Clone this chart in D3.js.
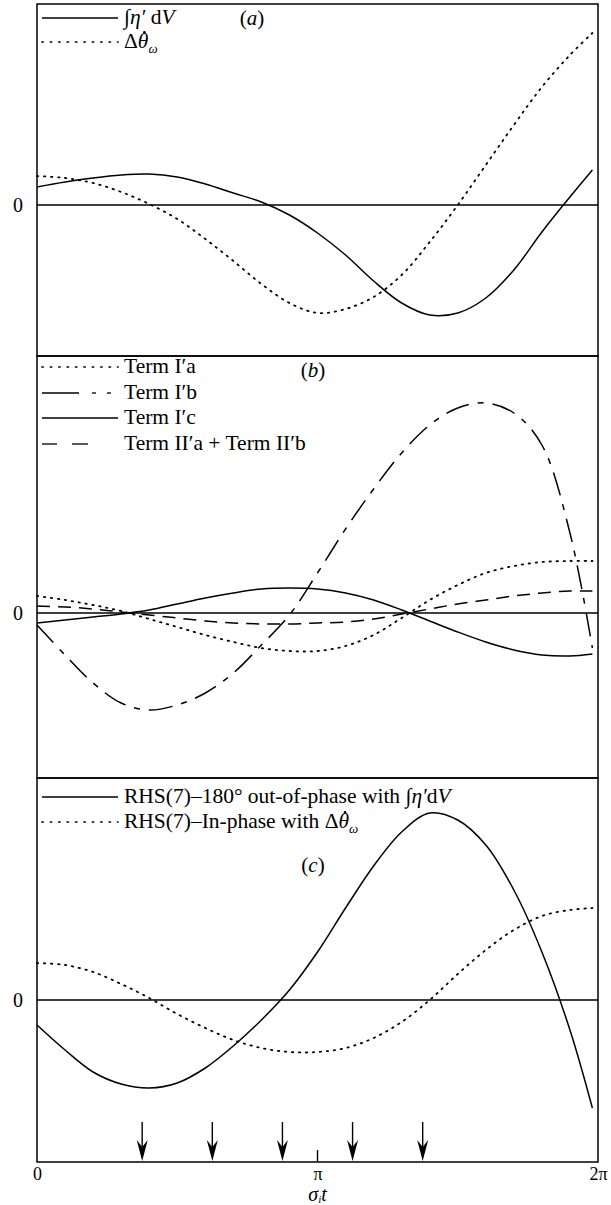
<!DOCTYPE html>
<html>
<head>
<meta charset="utf-8">
<script src="https://cdn.jsdelivr.net/npm/d3@7"></script>
<style>
  html, body { margin: 0; padding: 0; background: #fff; }
  svg { display: block; }
  text { font-family: "Liberation Serif", "DejaVu Serif", serif; fill: #000; }
</style>
</head>
<body>
<svg id="chart" width="611" height="1205"></svg>
<script>
// Phase samples, in units of pi (sigma_i t / pi)
const phase = [0, 0.1, 0.2, 0.3, 0.4, 0.5, 0.6, 0.7, 0.8, 0.9, 1.0,
               1.1, 1.2, 1.3, 1.4, 1.5, 1.6, 1.7, 1.8, 1.9, 1.98];

// (a) volume-integrated eta' and heating-rate anomaly
const etaIntegral = [0.18, 0.23, 0.27, 0.30, 0.31, 0.28, 0.21, 0.12, 0.03, -0.10, -0.28,
                     -0.50, -0.76, -0.98, -1.10, -1.08, -0.93, -0.65, -0.27, 0.08, 0.35];
const heatingRate = [0.29, 0.27, 0.22, 0.13, 0.01, -0.14, -0.34, -0.56, -0.79, -0.98, -1.08,
                     -1.04, -0.92, -0.70, -0.37, 0.00, 0.40, 0.80, 1.18, 1.50, 1.72];

// (b) individual terms
const termIa = [0.17, 0.13, 0.08, 0.02, -0.06, -0.14, -0.22, -0.29, -0.35, -0.38, -0.38,
                -0.33, -0.22, -0.05, 0.13, 0.28, 0.40, 0.47, 0.51, 0.52, 0.52];
const termIb = [-0.12, -0.42, -0.70, -0.90, -0.97, -0.92, -0.80, -0.60, -0.32, -0.02, 0.40,
                0.84, 1.24, 1.60, 1.88, 2.05, 2.10, 2.00, 1.68, 0.80, -0.35];
const termIc = [-0.10, -0.07, -0.04, -0.01, 0.03, 0.09, 0.15, 0.20, 0.24, 0.25, 0.24,
                0.20, 0.13, 0.03, -0.08, -0.19, -0.29, -0.37, -0.42, -0.43, -0.41];
const termII = [0.07, 0.06, 0.04, 0.01, -0.02, -0.05, -0.08, -0.10, -0.11, -0.11, -0.10,
                -0.09, -0.06, -0.01, 0.04, 0.09, 0.13, 0.17, 0.20, 0.22, 0.22];

// (c) right-hand side of (7), split into two phase components
const rhsOut = [-0.25, -0.50, -0.72, -0.84, -0.88, -0.83, -0.68, -0.46, -0.20, 0.10, 0.48,
                0.92, 1.34, 1.68, 1.87, 1.80, 1.55, 1.10, 0.48, -0.30, -1.08];
const rhsIn = [0.37, 0.35, 0.28, 0.16, 0.02, -0.14, -0.28, -0.40, -0.48, -0.52, -0.52,
               -0.48, -0.38, -0.22, 0.00, 0.26, 0.50, 0.70, 0.84, 0.90, 0.92];

// Phases marked with arrows on the bottom axis (units of pi)
const arrowPhases = [0.375, 0.625, 0.875, 1.125, 1.375];
const xTicks = [0, 1, 2];
const xTickLabels = ["0", "π", "2π"];

const svg = d3.select("#chart");
const x = d3.scaleLinear().domain([0, 2]).range([37, 598]);

const FS = 21.5;   // legend font size
const DOT = "1.4,5.6";

const panels = [
  { top: 4, bottom: 356, domain: [-1.51, 2.01], tag: "a", tagX: 252, tagY: 25,
    series: [
      { values: etaIntegral, dash: null },
      { values: heatingRate, dash: DOT, cap: "round", w: 1.8 }
    ],
    legend: [
      { y: 18, kind: "solid", label: "eta" },
      { y: 42, kind: "dot", label: "theta" }
    ] },
  { top: 356, bottom: 778, domain: [-1.65, 2.57], tag: "b", tagX: 313, tagY: 377,
    series: [
      { values: termIa, dash: DOT, cap: "round", w: 1.8 },
      { values: termIb, dash: "24,9,6,9" },
      { values: termIc, dash: null },
      { values: termII, dash: "13,8" }
    ],
    legend: [
      { y: 367, kind: "dot", label: "Term I′a" },
      { y: 393, kind: "longshort", label: "Term I′b" },
      { y: 418, kind: "solid", label: "Term I′c" },
      { y: 444, kind: "dash", label: "Term II′a + Term II′b" }
    ] },
  { top: 778, bottom: 1162, domain: [-1.62, 2.22], tag: "c", tagX: 313, tagY: 872,
    series: [
      { values: rhsOut, dash: null },
      { values: rhsIn, dash: DOT, cap: "round", w: 1.8 }
    ],
    legend: [
      { y: 797, kind: "solid", label: "rhsOut" },
      { y: 822, kind: "dot", label: "rhsIn" }
    ] }
];

const line = y => d3.line()
  .x((d, i) => x(phase[i]))
  .y(d => y(d))
  .curve(d3.curveCatmullRom.alpha(0.5));

function hline(g, a, b, y, extra) {
  const l = g.append("line").attr("x1", a).attr("x2", b).attr("y1", y).attr("y2", y)
    .attr("stroke", "#000").attr("stroke-width", 1.3);
  if (extra) extra(l);
  return l;
}

function legendKey(g, kind, y) {
  if (kind === "solid") {
    hline(g, 42, 118, y);
  } else if (kind === "dot") {
    hline(g, 42, 118, y, l => l.attr("stroke-width", 1.7)
      .attr("stroke-dasharray", "1.2,7.2").attr("stroke-linecap", "round"));
  } else if (kind === "longshort") {
    hline(g, 42, 79, y);
    hline(g, 92, 96, y);
    hline(g, 107, 111, y);
  } else if (kind === "dash") {
    hline(g, 42, 57, y);
    hline(g, 72, 88, y);
  }
}

// dot accent above the character at index ci of a text element
function overDot(g, t, ci) {
  const e = t.node().getExtentOfChar(ci);
  g.append("circle").attr("cx", e.x + e.width * 0.62).attr("cy", e.y + 3.4)
    .attr("r", 1.3).attr("fill", "#000");
}

function legendLabel(g, label, y) {
  const t = g.append("text").attr("x", 124).attr("y", y + 6).attr("font-size", FS);
  if (label === "eta") {
    t.append("tspan").text("∫");
    t.append("tspan").attr("font-style", "italic").text("η′");
    t.append("tspan").text(" d");
    t.append("tspan").attr("font-style", "italic").text("V");
  } else if (label === "theta") {
    t.text("Δ");
    t.append("tspan").attr("font-style", "italic").text("θ");
    t.append("tspan").attr("font-style", "italic").attr("font-size", 13).attr("dy", 5).text("ω");
    overDot(g, t, 1);
  } else if (label === "rhsOut") {
    t.text("RHS(7)–180° out-of-phase with ∫");
    t.append("tspan").attr("font-style", "italic").text("η′");
    t.append("tspan").text("d");
    t.append("tspan").attr("font-style", "italic").text("V");
  } else if (label === "rhsIn") {
    t.text("RHS(7)–In-phase with Δ");
    t.append("tspan").attr("font-style", "italic").text("θ");
    t.append("tspan").attr("font-style", "italic").attr("font-size", 13).attr("dy", 5).text("ω");
    overDot(g, t, "RHS(7)–In-phase with Δ".length);
  } else {
    t.text(label);
  }
}

panels.forEach(p => {
  const y = d3.scaleLinear().domain(p.domain).range([p.bottom, p.top]);
  const g = svg.append("g");

  // frame
  g.append("rect").attr("x", x(0)).attr("y", p.top)
    .attr("width", x(2) - x(0)).attr("height", p.bottom - p.top)
    .attr("fill", "none").attr("stroke", "#000").attr("stroke-width", 1.5);

  // zero line and its label
  hline(g, x(0), x(2), y(0));
  g.append("text").attr("x", 18).attr("y", y(0) + 7)
    .attr("font-size", 20).attr("text-anchor", "middle").text("0");

  // curves
  p.series.forEach(s => {
    g.append("path").datum(s.values)
      .attr("d", line(y))
      .attr("fill", "none").attr("stroke", "#000")
      .attr("stroke-width", s.w || 1.5)
      .attr("stroke-dasharray", s.dash)
      .attr("stroke-linecap", s.cap || "butt");
  });

  // legend
  p.legend.forEach(l => { legendKey(g, l.kind, l.y); legendLabel(g, l.label, l.y); });

  // panel tag
  const tag = g.append("text").attr("x", p.tagX).attr("y", p.tagY)
    .attr("font-size", 21).attr("text-anchor", "middle");
  tag.append("tspan").text("(");
  tag.append("tspan").attr("font-style", "italic").text(p.tag);
  tag.append("tspan").text(")");
});

// bottom axis
const axisY = 1162;
const axis = d3.axisBottom(x).tickValues(xTicks)
  .tickFormat((d, i) => xTickLabels[i]).tickSize(0).tickPadding(5);
const ax = svg.append("g").attr("transform", `translate(0,${axisY})`).call(axis);
ax.select(".domain").remove();
ax.selectAll("text").attr("font-size", 18)
  .attr("font-family", "Liberation Serif, serif");

// small tick at pi
svg.append("line").attr("x1", x(1)).attr("x2", x(1))
  .attr("y1", axisY).attr("y2", axisY - 12)
  .attr("stroke", "#000").attr("stroke-width", 1.4);

// arrows
arrowPhases.forEach(ph => {
  const ax0 = x(ph);
  svg.append("line").attr("x1", ax0).attr("x2", ax0)
    .attr("y1", axisY - 40).attr("y2", axisY - 8)
    .attr("stroke", "#000").attr("stroke-width", 1.4);
  svg.append("path")
    .attr("d", `M${ax0},${axisY - 1} L${ax0 - 5.5},${axisY - 22} L${ax0},${axisY - 15} L${ax0 + 5.5},${axisY - 22} Z`)
    .attr("fill", "#000");
});

// axis title
const title = svg.append("text").attr("x", x(1)).attr("y", 1201)
  .attr("font-size", 20).attr("text-anchor", "middle");
title.append("tspan").attr("font-style", "italic").text("σ");
title.append("tspan").attr("font-style", "italic").attr("font-size", 11).attr("dy", 2).text("i");
title.append("tspan").attr("font-style", "italic").attr("dy", -2).text("t");
</script>
</body>
</html>
